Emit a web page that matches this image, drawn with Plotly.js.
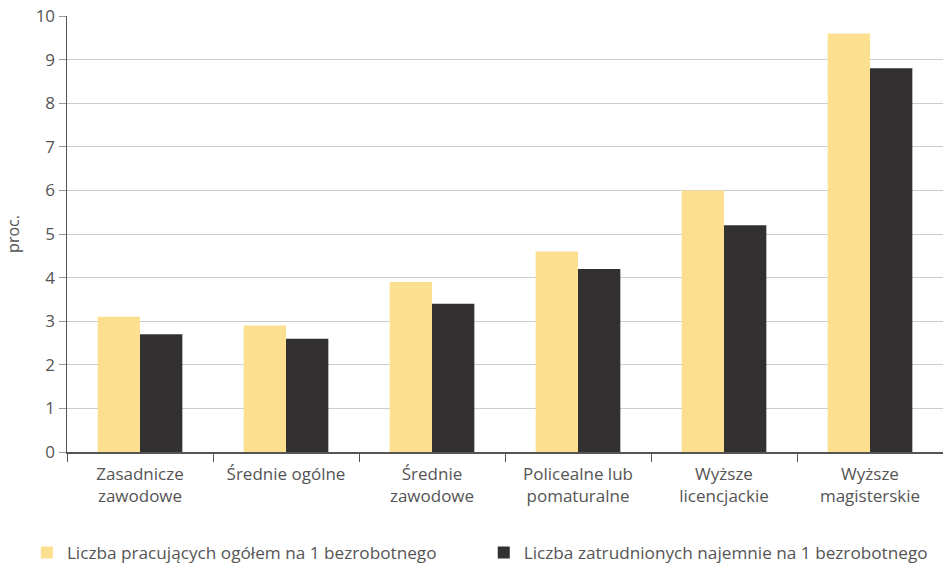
<!DOCTYPE html>
<html>
<head>
<meta charset="utf-8">
<script src="https://cdn.plot.ly/plotly-3.0.1.min.js"></script>
<style>html,body{margin:0;padding:0;background:#fff;}#chart{width:943px;height:564px;}</style>
</head>
<body>
<div id="chart"></div>
<script>
const categories = ["Zasadnicze<br>zawodowe", "Średnie ogólne", "Średnie<br>zawodowe", "Policealne lub<br>pomaturalne", "Wyższe<br>licencjackie", "Wyższe<br>magisterskie"];
const seriesNames = ["Liczba pracujących ogółem na 1 bezrobotnego", "Liczba zatrudnionych najemnie na 1 bezrobotnego"];
const pracujacy = [3.1, 2.9, 3.9, 4.6, 6.0, 9.6];
const zatrudnieni = [2.7, 2.6, 3.4, 4.2, 5.2, 8.8];
const yTicks = [0,1,2,3,4,5,6,7,8,9,10];

const font = "Open Sans, sans-serif";
const data = [
  {type:"bar", x:categories, y:pracujacy, name:seriesNames[0], marker:{color:"#FCDF8F"}, hoverinfo:"y", legend:"legend"},
  {type:"bar", x:categories, y:zatrudnieni, name:seriesNames[1], marker:{color:"#333031"}, hoverinfo:"y", legend:"legend2"}
];
const legendBase = {orientation:"h", xref:"container", yref:"container", y:0.02, xanchor:"left", yanchor:"middle",
                    font:{size:17.2, color:"#555"}, itemwidth:30, bgcolor:"rgba(0,0,0,0)"};
const layout = {
  width:943, height:564,
  margin:{l:67, r:0, t:16, b:112},
  paper_bgcolor:"#fff", plot_bgcolor:"#fff",
  font:{family:font, size:17, color:"#555"},
  barmode:"group", bargap:0.42, bargroupgap:0,
  showlegend:true,
  legend:Object.assign({}, legendBase, {x:0.0285}),
  legend2:Object.assign({}, legendBase, {x:0.513}),
  xaxis:{type:"category", showline:true, linecolor:"#555", linewidth:1.5, ticks:"outside", tickson:"boundaries", ticklen:8, tickcolor:"#555", showgrid:false, tickfont:{size:17, color:"#555"}, ticklabelstandoff:6, fixedrange:true, automargin:false},
  yaxis:{range:[0,10], tickvals:yTicks, showline:true, linecolor:"#555", linewidth:1.5, ticks:"outside", ticklen:7, tickcolor:"#999", gridcolor:"#ccc", gridwidth:1, zeroline:false, tickfont:{size:17, color:"#555"}, title:{text:"proc.", font:{size:16, color:"#555"}, standoff:12}, fixedrange:true, automargin:false}
};
Plotly.newPlot("chart", data, layout, {displayModeBar:false, staticPlot:true});
</script>
</body>
</html>
